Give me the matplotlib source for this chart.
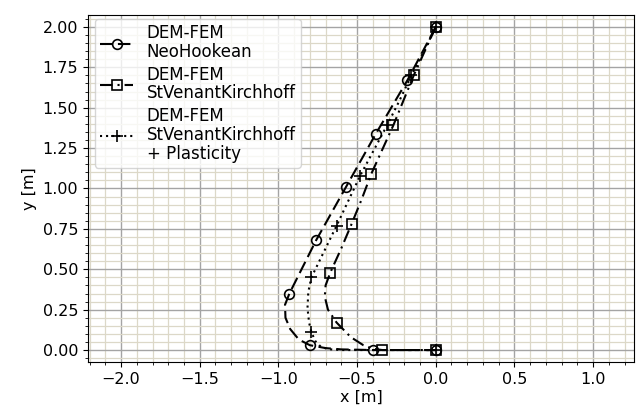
import numpy as np
import matplotlib
matplotlib.use('Agg')
import matplotlib.pyplot as plt
from matplotlib.ticker import MultipleLocator

# NeoHookean trajectory (x, y) and marker indices
neo_x = [0.0, -0.09, -0.18, -0.28, -0.38, -0.475, -0.57, -0.665, -0.76, -0.845,
         -0.93, -0.958, -0.955, -0.925, -0.87, -0.80, -0.70, -0.60, -0.40, -0.20, 0.0]
neo_y = [2.0, 1.835, 1.67, 1.505, 1.34, 1.175, 1.01, 0.845, 0.68, 0.515,
         0.35, 0.28, 0.20, 0.13, 0.065, 0.03, 0.012, 0.004, 0.0, 0.0, 0.0]
neo_marks = [0, 2, 4, 6, 8, 10, 15, 18, 20]

# StVenantKirchhoff trajectory
svk_x = [0.0, -0.07, -0.14, -0.205, -0.27, -0.34, -0.41, -0.47, -0.535, -0.60,
         -0.67, -0.70, -0.705, -0.685, -0.63, -0.54, -0.46, -0.40, -0.34, -0.17, 0.0]
svk_y = [2.0, 1.85, 1.70, 1.545, 1.39, 1.24, 1.09, 0.935, 0.78, 0.63,
         0.48, 0.40, 0.33, 0.25, 0.17, 0.08, 0.03, 0.008, 0.0, 0.0, 0.0]
svk_marks = [0, 2, 4, 6, 8, 10, 14, 18, 20]

# StVenantKirchhoff + Plasticity trajectory
pl_x = [0.0, -0.075, -0.155, -0.23, -0.31, -0.395, -0.48, -0.555, -0.63, -0.71,
        -0.79, -0.81, -0.815, -0.805, -0.79, -0.765, -0.73, -0.68, -0.60, -0.30, 0.0]
pl_y = [2.0, 1.85, 1.70, 1.545, 1.39, 1.235, 1.08, 0.925, 0.77, 0.61,
        0.45, 0.36, 0.26, 0.17, 0.11, 0.055, 0.02, 0.005, 0.0, 0.0, 0.0]
pl_marks = [0, 2, 4, 6, 8, 10, 14, 20]

labels = ['DEM-FEM\nNeoHookean',
          'DEM-FEM\nStVenantKirchhoff',
          'DEM-FEM\nStVenantKirchhoff\n+ Plasticity']

plt.rcParams['font.size'] = 11.5

fig = plt.figure(figsize=(6.38, 4.19), dpi=100)
ax = fig.add_axes([88/638, 1 - 362/419, (634-88)/638, (362-15)/419])

ax.plot(neo_x, neo_y, color='k', ls=(0, (6, 2.6)), marker='o', mfc='none',
        ms=7, mew=1.2, lw=1.5, markevery=neo_marks, label=labels[0])
ax.plot(svk_x, svk_y, color='k', ls=(0, (6, 2.4, 1, 2.4)), marker='s', mfc='none',
        ms=7, mew=1.2, lw=1.5, markevery=svk_marks, label=labels[1])
ax.plot(pl_x, pl_y, color='k', ls=(0, (1, 1.9)), marker='+', ms=8, mew=1.2,
        lw=1.5, markevery=pl_marks, label=labels[2])

ax.set_xlim(-2.21, 1.26)
ax.set_ylim(-0.074, 2.074)
ax.xaxis.set_major_locator(MultipleLocator(0.5))
ax.xaxis.set_minor_locator(MultipleLocator(0.1))
ax.yaxis.set_major_locator(MultipleLocator(0.25))
ax.yaxis.set_minor_locator(MultipleLocator(0.05))
ax.grid(which='minor', color='#dcd8c8', lw=0.9)
ax.grid(which='major', color='#a4a4a4', lw=1.0)
ax.set_axisbelow(True)
ax.set_xlabel('x [m]', labelpad=2)
ax.set_ylabel('y [m]')
leg = ax.legend(loc='upper left', bbox_to_anchor=(7/546, 1 - 4/347),
                handlelength=2.0, fontsize=12, borderaxespad=0.0,
                labelspacing=0.3, borderpad=0.3)
for t in leg.get_texts():
    t.set_linespacing(1.05)

fig.savefig('out.png', dpi=100)
